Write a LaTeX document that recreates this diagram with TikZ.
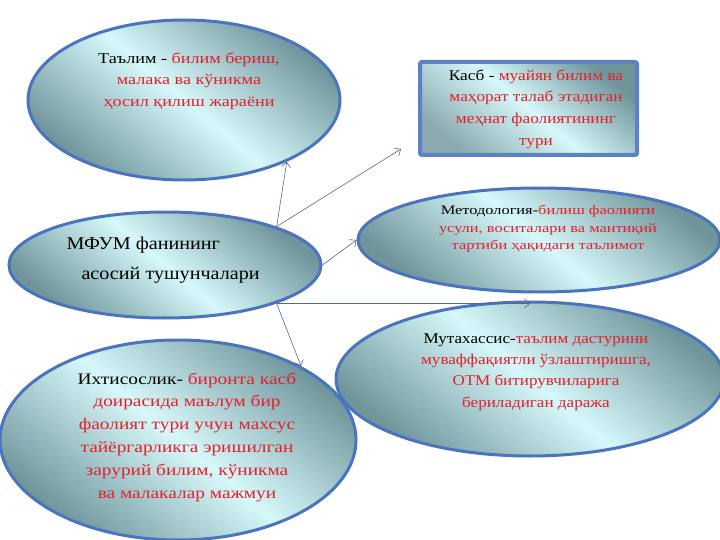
\documentclass[tikz,border=0pt]{standalone}
\usepackage{fontspec}
\setmainfont{Liberation Serif}
\usetikzlibrary{shapes.geometric,calc,arrows.meta}
\definecolor{rimblue}{HTML}{4A74BE}
\definecolor{tealgray}{HTML}{6F959B}
\definecolor{icecyan}{HTML}{D6F8FA}
\definecolor{termred}{HTML}{E3202B}
\definecolor{linkgray}{HTML}{55688A}
\begin{document}
\begin{tikzpicture}[x=1pt, y=-1pt,
    blob/.style={ellipse, draw=rimblue, line width=3pt, inner sep=0pt,
      left color=tealgray, right color=tealgray, middle color=icecyan, shading angle=-40},
    plate/.style={rectangle, rounded corners=2pt, draw=rimblue!90!white, line width=4pt,
      left color=tealgray, right color=tealgray!80!white, middle color=icecyan, shading angle=-40},
    said/.style={align=center, text=termred},
    link/.style={-{Straight Barb[length=5pt, width=9pt]}, draw=linkgray, line width=0.6pt}]
  \useasboundingbox (0,0) rectangle (720,540);

  \node[blob, minimum width=312pt, minimum height=160pt] (talim) at (184,100) {};

  \node[plate, minimum width=217pt, minimum height=93pt] (kasb) at (528.5,108.5) {};

  \node[blob, minimum width=362pt, minimum height=104pt] (metod) at (539,240) {};

  \node[blob, minimum width=312pt, minimum height=106pt] (mfum) at (165,265) {};

  \node[blob, minimum width=388pt, minimum height=154pt] (mutax) at (530,379) {};

  \node[blob, minimum width=356pt, minimum height=200pt] (ixtis) at (178,440) {};

  \node[said, font=\fontsize{15}{21.5}\selectfont\addfontfeature{FakeStretch=1.21}] (talimtxt) at (189,81)
    {\textcolor{black}{Таълим -} билим бериш,\\ малака ва кўникма\\ ҳосил қилиш жараёни};

  \node[said, font=\fontsize{15}{21.8}\selectfont\addfontfeature{FakeStretch=1.15}] (kasbtxt) at (536,109)
    {\textcolor{black}{Касб -} муайян билим ва\\ маҳорат талаб этадиган\\ меҳнат фаолиятининг\\ тури};

  \node[said, font=\fontsize{13}{17.5}\selectfont\addfontfeature{FakeStretch=1.26}] (metodtxt) at (548,229)
    {\textcolor{black}{Методология-}билиш фаолияти\\ усули, воситалари ва мантиқий\\ тартиби ҳақидаги таълимот};

  \node[align=left, anchor=west, font=\fontsize{18}{30}\selectfont\addfontfeature{FakeStretch=1.12}] (mfumtxt) at (63,260)
    {МФУМ фанининг\\ \hspace*{15pt}асосий тушунчалари};

  \node[said, font=\fontsize{15}{21.3}\selectfont\addfontfeature{FakeStretch=1.14}] (mutaxtxt) at (536,372)
    {\textcolor{black}{Мутахассис-}таълим дастурини\\ муваффақиятли ўзлаштиришга,\\ ОТМ битирувчиларига\\ бериладиган даража};

  \node[said, font=\fontsize{16}{22.8}\selectfont\addfontfeature{FakeStretch=1.21}] (ixtistxt) at (187,437)
    {\textcolor{black}{Ихтисослик-} биронта касб\\ доирасида маълум бир\\ фаолият тури учун махсус\\ тайёргарликга эришилган\\ зарурий билим, кўникма\\ ва малакалар мажмуи};

  \draw[link] (mfum.19) -- (talim.-31);

  \draw[link] (mfum.19) -- ($(kasb.south west)+(-17,-8)$);

  \draw[link] (mfum.east) -- (metod.west);

  \draw[link] (mfum.-19) -- (mfum.-19 -| mutax.north);

  \draw[link] (mfum.-19) -- (ixtis.31);
\end{tikzpicture}
\end{document}
